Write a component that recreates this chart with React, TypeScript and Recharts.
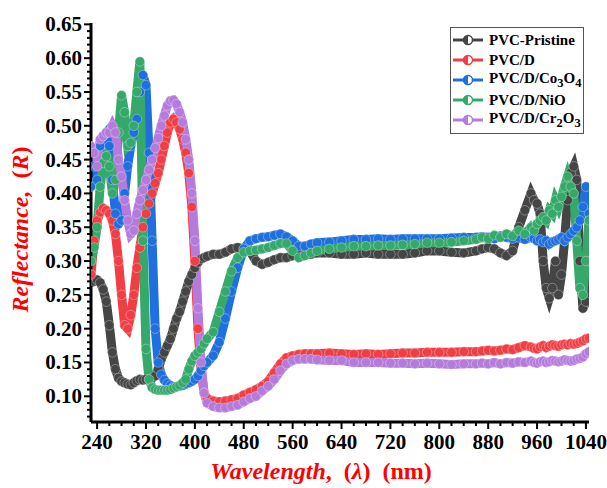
import React from "react";
import { LineChart, Line, XAxis, YAxis, Legend, Label } from "recharts";

// wavelength (nm), shared by all series
const wavelengths = [
  230, 235, 240, 245, 250, 255, 260, 265, 270, 275, 280, 285, 290, 295, 300, 305, 310, 315, 320, 325,
  330, 335, 340, 345, 350, 355, 360, 365, 370, 375, 380, 385, 390, 395, 400, 405, 410, 415, 420,
  430, 440, 450, 460, 470, 480, 490, 500, 510, 520, 530, 540, 550, 560, 570, 580, 590, 600,
  620, 640, 660, 680, 700, 720, 740, 760, 780, 800, 820, 840, 860,
  870, 880, 890, 900, 910, 920, 930, 940, 950, 955, 960, 965, 970, 975, 980, 985, 990, 995, 1000,
  1005, 1010, 1015, 1020, 1025, 1030, 1035, 1040, 1045,
];

const pristine = [
  0.28, 0.27, 0.272, 0.268, 0.258, 0.24, 0.205, 0.165, 0.14, 0.127, 0.122, 0.12, 0.118, 0.117, 0.12, 0.123, 0.125, 0.124, 0.125, 0.125,
  0.127, 0.13, 0.14, 0.155, 0.165, 0.175, 0.185, 0.2, 0.215, 0.225, 0.24, 0.255, 0.27, 0.28, 0.29, 0.298, 0.303, 0.305, 0.307,
  0.31, 0.31, 0.313, 0.318, 0.32, 0.318, 0.315, 0.3, 0.295, 0.298, 0.302, 0.305, 0.305, 0.308, 0.31, 0.31, 0.31, 0.312,
  0.312, 0.31, 0.31, 0.312, 0.31, 0.31, 0.31, 0.312, 0.315, 0.315, 0.313, 0.312, 0.315,
  0.318, 0.32, 0.318, 0.312, 0.308, 0.315, 0.35, 0.375, 0.4, 0.39, 0.385, 0.37, 0.3, 0.26, 0.245, 0.26, 0.3, 0.25, 0.28,
  0.33, 0.39, 0.43, 0.44, 0.42, 0.3, 0.23, 0.24, 0.3,
];

const pvcD = [
  0.28, 0.33, 0.36, 0.372, 0.378, 0.375, 0.37, 0.36, 0.34, 0.3, 0.25, 0.205, 0.2, 0.22, 0.25, 0.29, 0.32, 0.35, 0.37, 0.385,
  0.4, 0.415, 0.43, 0.45, 0.47, 0.49, 0.505, 0.51, 0.505, 0.495, 0.48, 0.46, 0.43, 0.38, 0.3, 0.2, 0.14, 0.105, 0.097,
  0.093, 0.092, 0.093, 0.095, 0.097, 0.102, 0.106, 0.11, 0.115, 0.122, 0.135, 0.148, 0.157, 0.16, 0.162, 0.163, 0.163, 0.163,
  0.164, 0.163, 0.162, 0.163, 0.162, 0.163, 0.164, 0.164, 0.165, 0.165, 0.165, 0.166, 0.166,
  0.167, 0.168, 0.167, 0.168, 0.17, 0.169, 0.172, 0.175, 0.173, 0.171, 0.17, 0.173, 0.175, 0.172, 0.174, 0.176, 0.175, 0.174, 0.176,
  0.177, 0.176, 0.178, 0.177, 0.178, 0.18, 0.182, 0.185, 0.186,
];

const co3o4 = [
  0.41, 0.44, 0.42, 0.47, 0.485, 0.49, 0.47, 0.42, 0.37, 0.355, 0.36, 0.4, 0.44, 0.47, 0.49, 0.51, 0.55, 0.575, 0.56, 0.46,
  0.33, 0.2, 0.15, 0.132, 0.124, 0.119, 0.116, 0.114, 0.114, 0.115, 0.116, 0.118, 0.12, 0.122, 0.125, 0.13, 0.138, 0.145, 0.15,
  0.16, 0.18, 0.215, 0.255, 0.29, 0.318, 0.33, 0.333, 0.335, 0.336, 0.338, 0.34, 0.336, 0.33, 0.322, 0.322, 0.325, 0.327,
  0.328, 0.33, 0.332, 0.332, 0.333, 0.332, 0.333, 0.333, 0.333, 0.333, 0.334, 0.335, 0.335,
  0.336, 0.335, 0.333, 0.337, 0.335, 0.333, 0.335, 0.332, 0.335, 0.333, 0.33, 0.332, 0.328, 0.33, 0.325, 0.328, 0.33, 0.332, 0.335,
  0.33, 0.335, 0.34, 0.345, 0.35, 0.36, 0.38, 0.41, 0.37,
];

const nio = [
  0.3, 0.32, 0.35, 0.41, 0.445, 0.455, 0.44, 0.4, 0.42, 0.49, 0.545, 0.52, 0.47, 0.475, 0.5, 0.55, 0.595, 0.33, 0.17, 0.125,
  0.113, 0.11, 0.109, 0.109, 0.109, 0.109, 0.11, 0.112, 0.114, 0.116, 0.12, 0.125, 0.14, 0.152, 0.16, 0.165, 0.17, 0.178, 0.185,
  0.195, 0.225, 0.255, 0.285, 0.305, 0.313, 0.315, 0.316, 0.318, 0.32, 0.323, 0.326, 0.326, 0.315, 0.305, 0.308, 0.312, 0.315,
  0.318, 0.32, 0.322, 0.322, 0.323, 0.323, 0.324, 0.325, 0.327, 0.327, 0.328, 0.33, 0.332,
  0.335, 0.333, 0.338, 0.335, 0.34, 0.337, 0.345, 0.34, 0.35, 0.345, 0.355, 0.36, 0.365, 0.36, 0.375, 0.37, 0.39, 0.38, 0.395,
  0.41, 0.425, 0.41, 0.4, 0.33, 0.26, 0.25, 0.3, 0.36,
];

const cr2o3 = [
  0.47, 0.46, 0.44, 0.48, 0.485, 0.49, 0.49, 0.5, 0.49, 0.45, 0.425, 0.39, 0.36, 0.34, 0.345, 0.37, 0.39, 0.405, 0.42, 0.435,
  0.45, 0.467, 0.482, 0.5, 0.515, 0.53, 0.537, 0.538, 0.532, 0.52, 0.505, 0.48, 0.45, 0.4, 0.33, 0.23, 0.15, 0.105, 0.09,
  0.085, 0.083, 0.083, 0.085, 0.087, 0.092, 0.097, 0.1, 0.108, 0.115, 0.125, 0.138, 0.148, 0.153, 0.155, 0.155, 0.155, 0.154,
  0.153, 0.153, 0.15, 0.15, 0.15, 0.149, 0.149, 0.148, 0.149, 0.148, 0.147, 0.148, 0.148,
  0.149, 0.148, 0.15, 0.148, 0.15, 0.149, 0.151, 0.15, 0.152, 0.15, 0.149, 0.151, 0.152, 0.15, 0.151, 0.153, 0.152, 0.151, 0.152,
  0.154, 0.153, 0.152, 0.153, 0.155, 0.156, 0.158, 0.163, 0.166,
];

const xMajorTicks = [240, 320, 400, 480, 560, 640, 720, 800, 880, 960, 1040];
const yMajorTicks = [0.1, 0.15, 0.2, 0.25, 0.3, 0.35, 0.4, 0.45, 0.5, 0.55, 0.6, 0.65];
const xMinorTicks = Array.from({ length: 41 }, (_, i) => 240 + i * 20);
const yMinorTicks = Array.from({ length: 59 }, (_, i) => Math.round((0.07 + i * 0.01) * 100) / 100);

const FONT = "'Liberation Serif', 'Times New Roman', serif";

const series = [
  { key: "pristine", color: "#454545", label: <>PVC-Pristine</> },
  { key: "pvcD", color: "#ef3f45", label: <>PVC/D</> },
  { key: "co3o4", color: "#1f6fdf", label: <>PVC/D/Co<sub>3</sub>O<sub>4</sub></> },
  { key: "nio", color: "#35a96a", label: <>PVC/D/NiO</> },
  { key: "cr2o3", color: "#b47bdc", label: <>PVC/D/Cr<sub>2</sub>O<sub>3</sub></> },
];

const data = wavelengths.map((w, i) => ({
  w,
  pristine: pristine[i],
  pvcD: pvcD[i],
  co3o4: co3o4[i],
  nio: nio[i],
  cr2o3: cr2o3[i],
}));

const isMajor = (v: number, list: number[]) => list.some((m) => Math.abs(m - v) < 1e-6);

const XTick = (props: any) => {
  const { x, y, payload } = props;
  const major = isMajor(payload.value, xMajorTicks);
  return (
    <g>
      <line x1={x} x2={x} y1={y} y2={y + (major ? 7 : 4)} stroke="#000" strokeWidth={2} />
      {major && (
        <text x={x} y={y + 27} textAnchor="middle" fontFamily={FONT} fontWeight="bold" fontSize={21} fill="#000">
          {payload.value}
        </text>
      )}
    </g>
  );
};

const YTick = (props: any) => {
  const { x, y, payload } = props;
  const major = isMajor(payload.value, yMajorTicks);
  return (
    <g>
      <line x1={x} x2={x - (major ? 7 : 4)} y1={y} y2={y} stroke="#000" strokeWidth={2} />
      {major && (
        <text x={x - 9} y={y + 7} textAnchor="end" fontFamily={FONT} fontWeight="bold" fontSize={21} fill="#000">
          {payload.value.toFixed(2)}
        </text>
      )}
    </g>
  );
};

const makeDot = (color: string) => (props: any) => {
  const { cx, cy, index } = props;
  if (cx == null || cy == null) return <g key={index} />;
  return (
    <circle key={index} cx={cx} cy={cy} r={4.8} fill={color} stroke="#fff" strokeOpacity={0.4} strokeWidth={0.8} />
  );
};

const YTitle = (props: any) => {
  const { viewBox } = props;
  const cx = viewBox.x - 11;
  const cy = viewBox.y + viewBox.height / 2 + 7;
  return (
    <text
      x={cx}
      y={cy}
      transform={`rotate(-90 ${cx} ${cy})`}
      textAnchor="middle"
      dominantBaseline="central"
      fontFamily={FONT}
      fontWeight="bold"
      fontSize={24}
      fill="#ff0000"
    >
      <tspan fontStyle="italic">Reflectance,</tspan>
      <tspan>{"\u00a0\u00a0("}</tspan>
      <tspan fontStyle="italic">R</tspan>
      <tspan>)</tspan>
    </text>
  );
};

const XTitle = (props: any) => {
  const { viewBox } = props;
  const cx = viewBox.x + viewBox.width / 2 - 19;
  const cy = viewBox.y + 49;
  return (
    <text x={cx} y={cy} textAnchor="middle" dominantBaseline="central" fontFamily={FONT} fontWeight="bold" fontSize={24} fill="#ff0000">
      <tspan fontStyle="italic">Wavelength</tspan>
      <tspan>{",\u00a0\u00a0("}</tspan>
      <tspan fontStyle="italic">λ</tspan>
      <tspan>{")\u00a0\u00a0(nm)"}</tspan>
    </text>
  );
};

const LegendBox = () => (
  <div
    style={{
      border: "1px solid #555",
      background: "#fff",
      padding: "2px 4px 3px 2px",
      fontFamily: FONT,
      fontWeight: "bold",
      fontSize: 15,
      color: "#000",
      width: 126,
    }}
  >
    {series.map((s) => (
      <div key={s.key} style={{ display: "flex", alignItems: "center", height: 20, whiteSpace: "nowrap" }}>
        <svg width={30} height={12} style={{ flex: "none" }}>
          <line x1={0} y1={6} x2={30} y2={6} stroke={s.color} strokeWidth={3} />
          <circle cx={15} cy={6} r={4.5} fill="#fff" stroke={s.color} strokeWidth={1.5} />
          <path d="M15 1.5 A4.5 4.5 0 0 0 15 10.5 Z" fill={s.color} />
        </svg>
        <span style={{ marginLeft: 6, lineHeight: "16px" }}>{s.label}</span>
      </div>
    ))}
  </div>
);

export default function App() {
  return (
    <div style={{ position: "absolute", left: 0, top: 0, width: 607, height: 488, background: "#fff" }}>
      <LineChart width={607} height={488} data={data} margin={{ top: 23, right: 18, bottom: 26, left: 31 }}>
        <XAxis
          dataKey="w"
          type="number"
          domain={[230, 1045]}
          allowDataOverflow
          ticks={xMinorTicks}
          interval={0}
          tick={<XTick />}
          tickLine={false}
          tickSize={0}
          tickMargin={0}
          height={40}
          axisLine={{ stroke: "#000", strokeWidth: 3 }}
        >
          <Label content={<XTitle />} />
        </XAxis>
        <XAxis
          xAxisId="top"
          orientation="top"
          type="number"
          domain={[230, 1045]}
          tick={false}
          tickLine={false}
          height={0}
          axisLine={{ stroke: "#000", strokeWidth: 3 }}
        />
        <YAxis
          type="number"
          domain={[0.062, 0.652]}
          allowDataOverflow
          ticks={yMinorTicks}
          interval={0}
          tick={<YTick />}
          tickLine={false}
          tickSize={0}
          tickMargin={0}
          width={60}
          axisLine={{ stroke: "#000", strokeWidth: 3 }}
        >
          <Label content={<YTitle />} />
        </YAxis>
        <YAxis
          yAxisId="right"
          orientation="right"
          type="number"
          domain={[0, 1]}
          tick={false}
          tickLine={false}
          width={0}
          axisLine={{ stroke: "#000", strokeWidth: 3 }}
        />
        <Legend
          layout="vertical"
          align="center"
          verticalAlign="middle"
          content={() => <LegendBox />}
          wrapperStyle={{ left: 450, top: 27, right: "auto", bottom: "auto", width: 134 }}
        />
        {series.map((s) => (
          <Line
            key={s.key}
            dataKey={s.key}
            type="linear"
            stroke={s.color}
            strokeWidth={9}
            dot={makeDot(s.color)}
            activeDot={false}
            isAnimationActive={false}
          />
        ))}
      </LineChart>
    </div>
  );
}
